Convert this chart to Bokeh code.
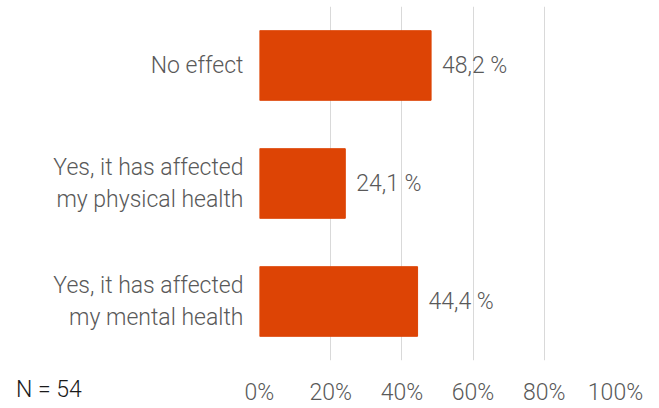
from bokeh.plotting import figure
from bokeh.models import ColumnDataSource, FactorRange, Range1d, FixedTicker, PrintfTickFormatter, LabelSet, Div
from bokeh.layouts import column
from bokeh.core.properties import value
from bokeh.embed import file_html
from bokeh.resources import INLINE

categories = ["Yes, it has affected\nmy mental health", "Yes, it has affected\nmy physical health", "No effect"]
values = [44.4, 24.1, 48.2]
value_labels = ["44,4 %", "24,1 %", "48,2 %"]
x_ticks = [0, 20, 40, 60, 80, 100]
note = "N = 54"

FONT = "Roboto Light"
GRAY = "#595959"
BAR = "#DD4405"
FS = "23px"

src = ColumnDataSource(dict(cat=categories, val=values, lab=value_labels))

p = figure(width=650, height=408, output_backend="svg", toolbar_location=None,
           y_range=FactorRange(*categories, range_padding=0), x_range=Range1d(0, 100),
           min_border_left=259, min_border_right=35, min_border_top=6, min_border_bottom=45)
p.outline_line_color = None
p.background_fill_color = "white"
p.border_fill_color = "white"

p.hbar(y="cat", right="val", left=0, height=0.59, source=src, fill_color=BAR, line_color=BAR)

p.xaxis.ticker = FixedTicker(ticks=x_ticks)
p.xaxis.formatter = PrintfTickFormatter(format="%d%%")
p.xaxis.axis_line_color = None
p.xaxis.major_tick_line_color = None
p.xaxis.minor_tick_line_color = None
p.xaxis.major_tick_out = 0
p.xaxis.major_label_standoff = 18
p.xaxis.major_label_text_font = FONT
p.xaxis.major_label_text_font_size = FS
p.xaxis.major_label_text_color = GRAY

p.yaxis.axis_line_color = None
p.yaxis.major_tick_line_color = None
p.yaxis.minor_tick_line_color = None
p.yaxis.major_tick_out = 0
p.yaxis.major_label_standoff = 16
p.yaxis.major_label_text_font = FONT
p.yaxis.major_label_text_font_size = FS
p.yaxis.major_label_text_color = GRAY

p.xgrid.grid_line_color = "#D9D9D9"
p.xgrid.grid_line_width = 1
p.ygrid.grid_line_color = None

labels = LabelSet(x="val", y="cat", text="lab", source=src, x_offset=11,
                  text_baseline="middle", text_align="left",
                  text_font=value(FONT), text_font_size=value(FS), text_color=GRAY)
p.add_layout(labels)

note_div = Div(text=note, width=120, height=28, margin=(-32, 0, 0, 16),
               styles={"font-family": "Roboto Light", "font-size": FS,
                       "color": "#1a1a1a", "line-height": "28px"})

layout = column(p, note_div, spacing=0)

open("out.html", "w").write(file_html(layout, INLINE))
